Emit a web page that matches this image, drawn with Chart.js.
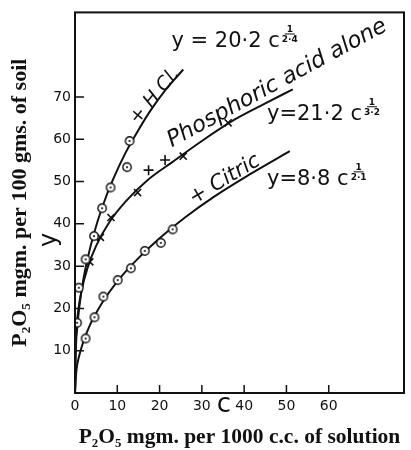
<!DOCTYPE html>
<html><head><meta charset="utf-8">
<script src="https://cdn.jsdelivr.net/npm/chart.js@4"></script>
<style>html,body{margin:0;padding:0;background:#fff}#wrap{width:411px;height:450px}</style>
</head><body><div id="wrap"><canvas id="c" width="411" height="450"></canvas></div>
<script>
const xTickLabels = [0, 10, 20, 30, 40, 50, 60];
const yTickLabels = [10, 20, 30, 40, 50, 60, 70];

const hclCurveX = [0, 0.2, 0.5, 1, 2, 3, 4.5, 6.5, 9, 12, 15, 18, 21.5, 25.6];
const hclCurveY = [0, 10.3, 15.1, 20.2, 27.0, 31.9, 37.8, 44.1, 50.5, 56.9, 62.2, 67.0, 71.8, 76.5];
const hclPointsX = [0.5, 0.9, 2.5, 4.5, 6.4, 8.4, 12.3, 12.9];
const hclPointsY = [16.6, 24.9, 31.6, 37.1, 43.7, 48.6, 53.4, 59.6];

const phosCurveX = [0, 0.1, 0.3, 0.7, 1.5, 3, 5, 8, 12, 17, 23, 30, 38, 45, 51.5];
const phosCurveY = [0, 10.3, 14.6, 19.0, 24.0, 29.7, 34.8, 40.2, 45.3, 50.2, 54.6, 59.6, 64.8, 68.5, 71.8];
const phosPointsX = [3.5, 6.0, 8.5, 14.8, 17.4, 21.3, 25.6, 36.2];
const phosPointsY = [31.0, 36.8, 41.5, 47.4, 52.7, 55.1, 56.0, 63.9];
const phosMarks = ['x', 'x', 'x', 'x', '+', '+', 'x', 'x'];

const citricCurveX = [0, 0.3, 1, 2, 3.5, 5.5, 8, 11, 15, 20, 26, 33, 41, 50.8];
const citricCurveY = [0, 5.0, 8.8, 12.2, 16.0, 19.8, 23.7, 27.6, 31.9, 36.6, 41.5, 46.5, 51.5, 57.2];
const citricPointsX = [2.5, 4.6, 6.7, 10.1, 13.2, 16.5, 20.3, 23.1];
const citricPointsY = [12.9, 17.9, 22.8, 26.7, 29.5, 33.6, 35.5, 38.7];

const formulas = [
  {text: 'y = 20·2 c', num: '1', den: '2·4', x: 22.8, y: 81.7, size: 21},
  {text: 'y=21·2 c', num: '1', den: '3·2', x: 45.4, y: 64.5, size: 21},
  {text: 'y=8·8 c', num: '1', den: '2·1', x: 45.4, y: 49.1, size: 21}
];
const curveLabels = [
  {text: '+ H Cl.', x: 13.8, y: 64.1, angle: -50, size: 19},
  {text: 'Phosphoric acid alone', x: 22.2, y: 59.3, angle: -28.5, size: 22.5},
  {text: '+ Citric', x: 27.4, y: 45.6, angle: -31, size: 21}
];

const INK = '#111';
const zip = (xs, ys) => xs.map((x, i) => ({x: x, y: ys[i]}));

// dotted-circle marker
const dotCircle = document.createElement('canvas');
dotCircle.width = 12; dotCircle.height = 12;
(function () {
  const g = dotCircle.getContext('2d');
  g.fillStyle = '#fff'; g.strokeStyle = INK; g.lineWidth = 1.4;
  g.beginPath(); g.arc(6, 6, 4.2, 0, Math.PI * 2); g.fill(); g.stroke();
  g.fillStyle = INK; g.beginPath(); g.arc(6, 6, 1.1, 0, Math.PI * 2); g.fill();
})();

const framePlugin = {
  id: 'frame',
  afterDraw(chart) {
    const {ctx, chartArea: a, scales: {x, y}} = chart;
    ctx.save();
    ctx.strokeStyle = INK; ctx.lineWidth = 2;
    ctx.strokeRect(a.left, a.top, a.right - a.left, a.bottom - a.top);
    ctx.lineWidth = 1.5;
    ctx.beginPath();
    xTickLabels.filter(v => v > 0).forEach(v => {
      const px = x.getPixelForValue(v);
      ctx.moveTo(px, a.bottom); ctx.lineTo(px, a.bottom - 8);
    });
    yTickLabels.forEach(v => {
      const py = y.getPixelForValue(v);
      ctx.moveTo(a.left, py); ctx.lineTo(a.left + 9, py);
    });
    ctx.stroke();

    ctx.fillStyle = INK;
    // formulas
    formulas.forEach(f => {
      const px = x.getPixelForValue(f.x), py = y.getPixelForValue(f.y);
      ctx.font = f.size + 'px "DejaVu Sans"';
      ctx.textAlign = 'left'; ctx.textBaseline = 'alphabetic';
      ctx.fillText(f.text, px, py);
      const w = ctx.measureText(f.text).width;
      const cx = px + w + 10;
      ctx.font = 'bold 9px "DejaVu Sans"';
      ctx.textAlign = 'center';
      ctx.fillText(f.num, cx, py - 15);
      ctx.fillText(f.den, cx, py - 5);
      ctx.lineWidth = 1;
      ctx.beginPath(); ctx.moveTo(cx - 5, py - 13.5); ctx.lineTo(cx + 5, py - 13.5); ctx.stroke();
    });
    // rotated curve labels
    curveLabels.forEach(l => {
      const px = x.getPixelForValue(l.x), py = y.getPixelForValue(l.y);
      ctx.save();
      ctx.translate(px, py);
      ctx.rotate(l.angle * Math.PI / 180);
      ctx.font = 'italic ' + l.size + 'px "DejaVu Sans"';
      ctx.textAlign = 'left'; ctx.textBaseline = 'middle';
      ctx.fillText(l.text, 0, 0);
      ctx.restore();
    });
    // axis variable letters
    ctx.font = '26px "DejaVu Sans"';
    ctx.textAlign = 'center'; ctx.textBaseline = 'middle';
    ctx.fillText('c', x.getPixelForValue(35.2), y.getPixelForValue(-3.0));
    ctx.font = '24px "DejaVu Sans"';
    ctx.save();
    ctx.translate(x.getPixelForValue(-6.0), y.getPixelForValue(36.2));
    ctx.rotate(-Math.PI / 2);
    ctx.fillText('y', 0, 0);
    ctx.restore();
    ctx.restore();
  }
};

const lineDs = (data) => ({
  type: 'line', data: data, borderColor: INK, borderWidth: 2, pointRadius: 0,
  fill: false, cubicInterpolationMode: 'monotone', order: 2
});

new Chart(document.getElementById('c'), {
  type: 'scatter',
  data: {
    datasets: [
      lineDs(zip(hclCurveX, hclCurveY)),
      lineDs(zip(phosCurveX, phosCurveY)),
      lineDs(zip(citricCurveX, citricCurveY)),
      {data: zip(hclPointsX, hclPointsY), pointStyle: dotCircle, pointRadius: 6, order: 1},
      {data: zip(citricPointsX, citricPointsY), pointStyle: dotCircle, pointRadius: 6, order: 1},
      {data: zip(phosPointsX, phosPointsY),
       pointStyle: phosMarks.map(m => m === '+' ? 'cross' : 'crossRot'),
       pointRadius: 5, borderColor: INK, borderWidth: 1.6, backgroundColor: INK, order: 1}
    ]
  },
  options: {
    responsive: false, animation: false, devicePixelRatio: 1,
    layout: {padding: {top: 12, right: 5.5, left: 0, bottom: 0}},
    plugins: {legend: {display: false}, tooltip: {enabled: false}},
    scales: {
      x: {
        type: 'linear', min: 0, max: 77.8,
        border: {display: false},
        grid: {display: false, drawTicks: false},
        ticks: {stepSize: 10, padding: 5, color: INK, font: {family: 'DejaVu Sans', size: 14},
                maxRotation: 0, autoSkip: false,
                callback: v => xTickLabels.includes(v) ? String(v) : ''},
        title: {display: true, text: 'P₂O₅ mgm. per 1000 c.c. of solution', color: INK,
                font: {family: 'Liberation Serif', size: 21.5, weight: 'bold'}, padding: {top: 0, bottom: 0}},
        afterFit: s => { s.height = 57; }
      },
      y: {
        type: 'linear', min: 0, max: 90,
        border: {display: false},
        grid: {display: false, drawTicks: false},
        ticks: {stepSize: 10, padding: 4, color: INK, font: {family: 'DejaVu Sans', size: 14},
                autoSkip: false,
                callback: v => yTickLabels.includes(v) ? String(v) : ''},
        title: {display: true, text: 'P₂O₅ mgm. per 100 gms. of soil', color: INK,
                font: {family: 'Liberation Serif', size: 22, weight: 'bold'}, padding: {top: 7, bottom: 0}},
        afterFit: s => { s.width = 75; }
      }
    }
  },
  plugins: [framePlugin]
});
</script>
</body></html>
